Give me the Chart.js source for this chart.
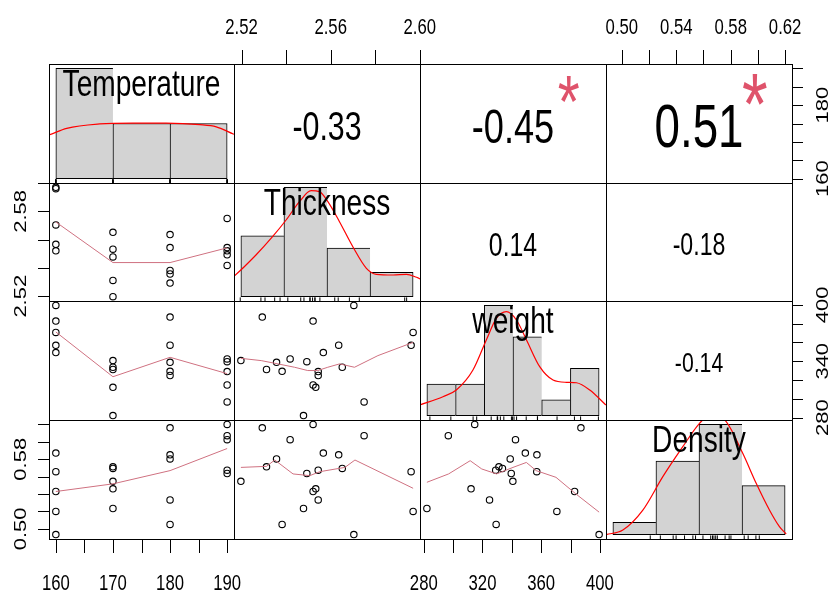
<!DOCTYPE html>
<html>
<head>
<meta charset="utf-8">
<script src="https://cdn.jsdelivr.net/npm/chart.js@4.4.1/dist/chart.umd.min.js"></script>
<style>
  html, body { margin: 0; padding: 0; background: #fff; }
  #wrap { position: relative; width: 830px; height: 590px; overflow: hidden; background: #fff; }
  #wrap canvas { position: absolute; }
</style>
</head>
<body>
<div id="wrap"></div>
<script>
// ---- data (20 samples) ----
const varNames = ['Temperature', 'Thickness', 'weight', 'Density'];
const temperature = [160, 160, 160, 160, 160, 170, 170, 170, 170, 170, 180, 180, 180, 180, 180, 190, 190, 190, 190, 190];
const thickness = [2.5704, 2.5521, 2.5970, 2.5961, 2.5567, 2.5197, 2.5478, 2.5533, 2.5652, 2.5312,
                   2.5293, 2.5636, 2.5544, 2.5382, 2.5357, 2.5418, 2.5493, 2.5544, 2.5521, 2.5750];
const weight = [399.5, 382.8, 370.7, 357.0, 349.2, 340.7, 282.1, 312.2, 333.6, 331.2,
                387.1, 357.1, 324.8, 329.3, 338.9, 342.5, 339.6, 329.0, 314.7, 296.7];
const density = [0.4934, 0.5429, 0.5200, 0.5657, 0.5871, 0.5546, 0.5234, 0.5460, 0.5694, 0.5713,
                 0.6161, 0.5850, 0.5332, 0.5051, 0.5803, 0.6025, 0.5636, 0.5674, 0.6200, 0.6071];

// histogram breaks and counts
const tempBreaks = [160, 170, 180, 190];                 const tempCounts = [10, 5, 5];
const thickBreaks = [2.52, 2.54, 2.56, 2.58, 2.60];       const thickCounts = [5, 9, 4, 2];
const weightBreaks = [280, 300, 320, 340, 360, 380, 400]; const weightCounts = [2, 2, 7, 5, 1, 3];
const densBreaks = [0.45, 0.50, 0.55, 0.60, 0.65];        const densCounts = [1, 6, 9, 4];

// red density curves (x, density)
const kdeTempX = [156.5, 158.8, 161.9, 167.7, 173.5, 179.3, 185.2, 188.1, 191.2, 193.5];
const kdeTempY = [0.0180, 0.0198, 0.0228, 0.0248, 0.0252, 0.0252, 0.0245, 0.0235, 0.0201, 0.0180];
const kdeThickX = [2.5150, 2.5169, 2.5270, 2.5347, 2.5410, 2.5472, 2.5526, 2.5565, 2.5604, 2.5658, 2.5720, 2.5783, 2.5829, 2.5907, 2.5969, 2.6016, 2.6050];
const kdeThickY = [3.60, 4.24, 8.57, 12.34, 15.78, 19.55, 21.82, 21.62, 19.55, 15.43, 10.28, 5.83, 4.60, 4.45, 4.60, 3.98, 3.30];
const kdeWeightX = [274.9, 291.2, 300.5, 312.1, 321.4, 328.4, 335.4, 342.4, 349.4, 358.6, 367.9, 377.3, 384.2, 393.5, 404.7];
const kdeWeightY = [0.00168, 0.00300, 0.00407, 0.00724, 0.01201, 0.01545, 0.01650, 0.01518, 0.01201, 0.00777, 0.00565, 0.00529, 0.00522, 0.00407, 0.00168];
const kdeDensX = [0.4423, 0.4616, 0.4848, 0.5080, 0.5312, 0.5506, 0.5657, 0.5816, 0.6008, 0.6164, 0.6318, 0.6434, 0.6512];
const kdeDensY = [0.00, 0.376, 2.00, 4.73, 7.18, 9.09, 9.90, 9.22, 6.64, 4.19, 2.01, 0.65, 0.05];

// smoother lines in the lower panels
const smTempX = [160, 170, 180, 190];
const smThickOnTemp = [2.5725, 2.5438, 2.5438, 2.5542];
const smWeightOnTemp = [371.2, 323.5, 344.2, 326.8];
const smDensOnTemp = [0.5429, 0.5517, 0.5669, 0.5923];
const smWeightOnThickX = [2.5197, 2.5288, 2.5363, 2.5438, 2.5497, 2.5542, 2.5587, 2.5640, 2.5707, 2.5812, 2.5970];
const smWeightOnThickY = [343.1, 340.7, 337.2, 333.6, 330.1, 330.1, 333.6, 337.2, 333.6, 346.0, 360.1];
const smDensOnThickX = [2.5197, 2.5312, 2.5349, 2.5431, 2.5506, 2.5552, 2.5664, 2.5709, 2.5970];
const smDensOnThickY = [0.5706, 0.5718, 0.5791, 0.5631, 0.5611, 0.5657, 0.5706, 0.5791, 0.5466];
const smDensOnWeightX = [282.1, 296.9, 311.6, 319.5, 329.6, 340.8, 349.9, 356.6, 370.1, 383.6, 399.5];
const smDensOnWeightY = [0.5535, 0.5631, 0.5783, 0.5688, 0.5631, 0.5706, 0.5763, 0.5669, 0.5592, 0.5402, 0.5192];

// correlations in the upper panels
const corrPairs = [[0, 1], [0, 2], [0, 3], [1, 2], [1, 3], [2, 3]];
const corrValues = ['-0.33', '-0.45', '0.51', '0.14', '-0.18', '-0.14'];
const corrSignif = ['', '*', '*', '', '', ''];

// axis ticks and labels
const tempTicks = [160, 165, 170, 175, 180, 185, 190];
const thickTicks = [2.52, 2.54, 2.56, 2.58, 2.60];
const weightTicks = [280, 300, 320, 340, 360, 380, 400];
const densTicks = [0.50, 0.52, 0.54, 0.56, 0.58, 0.60, 0.62];
const tempBottomLabels = ['160', '170', '180', '190'];
const thickTopLabels = ['2.52', '2.56', '2.60'];
const weightBottomLabels = ['280', '320', '360', '400'];
const densTopLabels = ['0.50', '0.54', '0.58', '0.62'];
const tempRightLabels = ['160', '180'];
const thickLeftLabels = ['2.52', '2.58'];
const weightRightLabels = ['280', '340', '400'];
const densLeftLabels = ['0.50', '0.58'];

// ---- layout ----
const W = 830, H = 590;
const XE = [49, 234, 420, 606, 792];
const YE = [64, 183, 301, 420, 539];
const EXT = 32; // each canvas reaches a bit over its neighbours so edge labels are not cut
const SX = 0.76; // the original output is squeezed horizontally
const FONT = '"Liberation Sans", Arial, sans-serif';
const SMOOTH_COL = '#cf7180';
const n = temperature.length;
const vars = [temperature, thickness, weight, density];
const hBreaks = [tempBreaks, thickBreaks, weightBreaks, densBreaks];
const hCounts = [tempCounts, thickCounts, weightCounts, densCounts];
const kdes = [[kdeTempX, kdeTempY], [kdeThickX, kdeThickY], [kdeWeightX, kdeWeightY], [kdeDensX, kdeDensY]];
const ticks = [tempTicks, thickTicks, weightTicks, densTicks];
const colLabels = [tempBottomLabels, thickTopLabels, weightBottomLabels, densTopLabels];
const rowLabels = [tempRightLabels, thickLeftLabels, weightRightLabels, densLeftLabels];
const smooths = {
  '1-0': [smTempX, smThickOnTemp],
  '2-0': [smTempX, smWeightOnTemp],
  '3-0': [smTempX, smDensOnTemp],
  '2-1': [smWeightOnThickX, smWeightOnThickY],
  '3-1': [smDensOnThickX, smDensOnThickY],
  '3-2': [smDensOnWeightX, smDensOnWeightY]
};

function padRange(v) {
  const lo = Math.min(...v), hi = Math.max(...v), d = (hi - lo) * 0.04;
  return [lo - d, hi + d];
}
const ranges = vars.map(padRange);
const xy = (xs, ys) => xs.map((x, k) => ({ x: x, y: ys[k] }));

function rText(ctx, str, x, y, size, color, rot, baseline) {
  ctx.save();
  ctx.font = size + 'px ' + FONT;
  ctx.fillStyle = color;
  ctx.textAlign = 'center';
  ctx.textBaseline = 'alphabetic';
  const m = ctx.measureText(str);
  const off = baseline ? 0 : (m.actualBoundingBoxAscent - m.actualBoundingBoxDescent) / 2;
  ctx.translate(x, y);
  ctx.scale(SX, 1);
  if (rot) ctx.rotate(-Math.PI / 2);
  ctx.fillText(str, 0, off);
  ctx.restore();
}

function textWidth1(ctx, str) {
  ctx.save();
  ctx.font = '100px ' + FONT;
  const w = ctx.measureText(str).width / 100;
  ctx.restore();
  return w;
}

// draws the box, outer axes and texts of one panel
const rPanel = {
  id: 'rPanel',
  afterDraw(chart, args, o) {
    const ctx = chart.ctx, a = chart.chartArea;
    const sx = chart.scales.x, sy = chart.scales.y;
    ctx.save();
    ctx.strokeStyle = '#000';
    ctx.lineWidth = 1;
    ctx.strokeRect(Math.round(a.left) + 0.5, Math.round(a.top) + 0.5,
                   Math.round(a.right - a.left), Math.round(a.bottom - a.top));

    const inX = v => v >= sx.min && v <= sx.max;
    const inY = v => v >= sy.min && v <= sy.max;
    ctx.beginPath();
    if (o.top || o.bottom) {
      o.xTicks.filter(inX).forEach(t => {
        const px = Math.round(sx.getPixelForValue(t)) + 0.5;
        if (o.top) { ctx.moveTo(px, a.top); ctx.lineTo(px, a.top - 14); }
        else { ctx.moveTo(px, a.bottom); ctx.lineTo(px, a.bottom + 14); }
      });
    }
    if (o.left || o.right) {
      o.yTicks.filter(inY).forEach(t => {
        const py = Math.round(sy.getPixelForValue(t)) + 0.5;
        if (o.left) { ctx.moveTo(a.left, py); ctx.lineTo(a.left - 11, py); }
        else { ctx.moveTo(a.right, py); ctx.lineTo(a.right + 11, py); }
      });
    }
    ctx.stroke();
    if (o.top) o.xLabels.forEach(s => rText(ctx, s, sx.getPixelForValue(parseFloat(s)), a.top - 38, 22, '#000'));
    if (o.bottom) o.xLabels.forEach(s => rText(ctx, s, sx.getPixelForValue(parseFloat(s)), a.bottom + 43, 22, '#000'));
    if (o.left) o.yLabels.forEach(s => rText(ctx, s, a.left - 29, sy.getPixelForValue(parseFloat(s)), 22, '#000', true));
    if (o.right) o.yLabels.forEach(s => rText(ctx, s, a.right + 30, sy.getPixelForValue(parseFloat(s)), 22, '#000', true));

    const cx = (a.left + a.right) / 2, cy = (a.top + a.bottom) / 2;
    const w = a.right - a.left, h = a.bottom - a.top;
    if (o.label) rText(ctx, o.label, cx, a.top + 31.7, 37, '#000', false, true);
    if (o.corr) {
      const w1 = textWidth1(ctx, o.corr);
      const r = Math.abs(parseFloat(o.corr));
      const K = 188;
      rText(ctx, o.corr, cx, cy + 2, K * (r + 0.3) / 1.3 / w1, '#000');
      if (o.signif) rText(ctx, o.signif, a.left + 0.8 * w, a.top + 0.2 * h + 2, K * 0.9 / w1, '#DF536B');
    }
    ctx.restore();
  }
};

const wrap = document.getElementById('wrap');

for (let i = 0; i < 4; i++) {
  for (let j = 0; j < 4; j++) {
    const cl = j === 0 ? 0 : XE[j] - EXT;
    const cr = j === 3 ? W : XE[j + 1] + 1 + EXT;
    const ct0 = i === 0 ? 0 : YE[i] - EXT;
    const cb = i === 3 ? H : YE[i + 1] + 1 + EXT;
    const ph = YE[i + 1] - YE[i];
    const cw = cr - cl, ch = cb - ct0;
    const canvas = document.createElement('canvas');
    canvas.width = cw; canvas.height = ch;
    canvas.style.left = cl + 'px';
    canvas.style.top = ct0 + 'px';
    canvas.style.width = cw + 'px';
    canvas.style.height = ch + 'px';
    wrap.appendChild(canvas);
    const padding = { left: XE[j] - cl, top: YE[i] - ct0, right: cr - XE[j + 1], bottom: cb - YE[i + 1] };

    const opts = {
      top: i === 0 && j % 2 === 1,
      bottom: i === 3 && j % 2 === 0,
      left: j === 0 && i % 2 === 1,
      right: j === 3 && i % 2 === 0,
      xTicks: ticks[j], yTicks: ticks[i],
      xLabels: colLabels[j], yLabels: rowLabels[i]
    };
    let datasets = [];
    let xr = ranges[j], yr = ranges[i];

    if (i === j) {
      // histogram with density curve and rug
      const br = hBreaks[i], cts = hCounts[i];
      const bw = br[1] - br[0];
      const bars = cts.map((c, m) => ({ x: (br[m] + br[m + 1]) / 2, y: c / (n * bw) }));
      const M = Math.max(...bars.map(b => b.y));
      const span = br[br.length - 1] - br[0];
      xr = [br[0] - 0.04 * span, br[br.length - 1] + 0.04 * span];
      yr = [-0.04 * M, 1.04 * M];
      const rugY = yr[0] + (yr[1] - yr[0]) * 1.8 / ph;
      datasets = [
        {
          type: 'bar', data: bars, order: 3,
          backgroundColor: '#d3d3d3', borderColor: '#000', borderSkipped: false,
          borderWidth: c => ({ top: 1, bottom: 1, left: 1, right: c.dataIndex === cts.length - 1 ? 1 : 0 }),
          barPercentage: 1, categoryPercentage: 1
        },
        {
          type: 'line', data: xy(kdes[i][0], kdes[i][1]), order: 1,
          borderColor: '#ff0000', borderWidth: 1.2, pointRadius: 0, fill: false,
          cubicInterpolationMode: 'monotone'
        },
        {
          type: 'scatter', data: vars[i].map(v => ({ x: v, y: rugY })), order: 2,
          pointStyle: 'line', rotation: 90, pointRadius: 1.8,
          borderColor: '#000', pointBorderColor: '#000', pointBorderWidth: 1
        }
      ];
      opts.label = varNames[i];
    } else if (i > j) {
      const sm = smooths[i + '-' + j];
      datasets = [
        {
          type: 'scatter', data: xy(vars[j], vars[i]), order: 2,
          pointStyle: 'circle', pointRadius: 3.2,
          pointBackgroundColor: 'rgba(0,0,0,0)', pointBorderColor: '#000', pointBorderWidth: 1.1
        },
        {
          type: 'line', data: xy(sm[0], sm[1]), order: 1,
          borderColor: SMOOTH_COL, borderWidth: 1, pointRadius: 0, fill: false, tension: 0
        }
      ];
    } else {
      const k = corrPairs.findIndex(p => p[0] === i && p[1] === j);
      opts.corr = corrValues[k];
      opts.signif = corrSignif[k];
    }

    new Chart(canvas, {
      type: 'scatter',
      data: { datasets: datasets },
      options: {
        responsive: false,
        animation: false,
        events: [],
        devicePixelRatio: 1,
        layout: { autoPadding: false, padding: padding },
        plugins: { legend: { display: false }, tooltip: { enabled: false }, rPanel: opts },
        scales: {
          x: { type: 'linear', display: false, min: xr[0], max: xr[1], offset: false },
          y: { type: 'linear', display: false, min: yr[0], max: yr[1] }
        }
      },
      plugins: [rPanel]
    });
  }
}
</script>
</body>
</html>
